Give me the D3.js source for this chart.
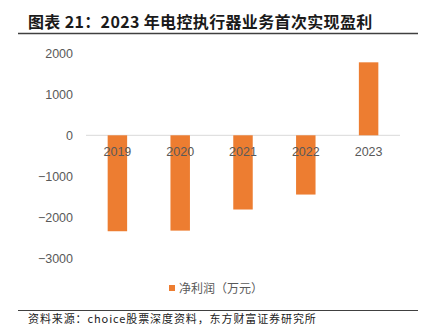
<!DOCTYPE html>
<html><head><meta charset="utf-8">
<script src="https://cdn.jsdelivr.net/npm/d3@7"></script>
<style>body{margin:0;background:#fff}svg{display:block}</style>
</head><body>
<script>
const categories = ["2019","2020","2021","2022","2023"];
const values = [-2340,-2325,-1810,-1445,1780];
const yTicks = [2000,1000,0,-1000,-2000,-3000];
const seriesName = "净利润（万元）";
const title = "图表 21：2023 年电控执行器业务首次实现盈利";
const source = "资料来源：choice股票深度资料，东方财富证券研究所";

const W=425,H=329;
const svg=d3.select("body").append("svg").attr("width",W).attr("height",H);
const cjk='"Noto Sans CJK SC","Noto Sans",sans-serif';

svg.append("text").attr("x",28).attr("y",28).attr("font-family",cjk).attr("font-weight","bold")
  .attr("font-size",16).attr("letter-spacing",0.35).attr("fill","#1a1a1a").text(title);
svg.append("line").attr("x1",18).attr("x2",418).attr("y1",33.5).attr("y2",33.5).attr("stroke","#404040").attr("stroke-width",1.5);

const x=d3.scaleBand().domain(categories).range([86,400]).paddingInner(0.69).paddingOuter(0.345);
const y=d3.scaleLinear().domain([-3000,2000]).range([258.3,53.3]);

// y tick labels
svg.append("g").selectAll("text").data(yTicks).join("text")
  .attr("x",73).attr("y",d=>y(d)).attr("dy","0.35em").attr("text-anchor","end")
  .attr("font-family","Arial, 'Liberation Sans', sans-serif").attr("font-size",12.5).attr("fill","#595959")
  .text(d=>d<0?"\u2212"+Math.abs(d):d);

// zero line
svg.append("line").attr("x1",86).attr("x2",400).attr("y1",y(0)).attr("y2",y(0)).attr("stroke","#d9d9d9").attr("stroke-width",1);

svg.append("g").selectAll("rect").data(values).join("rect")
  .attr("x",(d,i)=>x(categories[i])).attr("width",x.bandwidth())
  .attr("y",d=>y(Math.max(0,d))).attr("height",d=>Math.abs(y(d)-y(0)))
  .attr("fill","#ed7d31");

// x labels
svg.append("g").selectAll("text").data(categories).join("text")
  .attr("x",d=>x(d)+x.bandwidth()/2).attr("y",155.5).attr("text-anchor","middle")
  .attr("font-family","Arial, 'Liberation Sans', sans-serif").attr("font-size",12.5).attr("fill","#595959")
  .text(d=>d);

// legend
svg.append("rect").attr("x",169).attr("y",285).attr("width",6).attr("height",6).attr("fill","#ed7d31");
svg.append("text").attr("x",179).attr("y",292.5).attr("font-family",cjk).attr("font-size",12)
  .attr("fill","#595959").text(seriesName);

svg.append("line").attr("x1",18).attr("x2",418).attr("y1",310.5).attr("y2",310.5).attr("stroke","#404040").attr("stroke-width",1);
svg.append("text").attr("x",28).attr("y",323).attr("font-family",cjk).attr("font-size",11)
  .attr("letter-spacing",0.9).attr("fill","#222").text(source);
</script>
</body></html>
